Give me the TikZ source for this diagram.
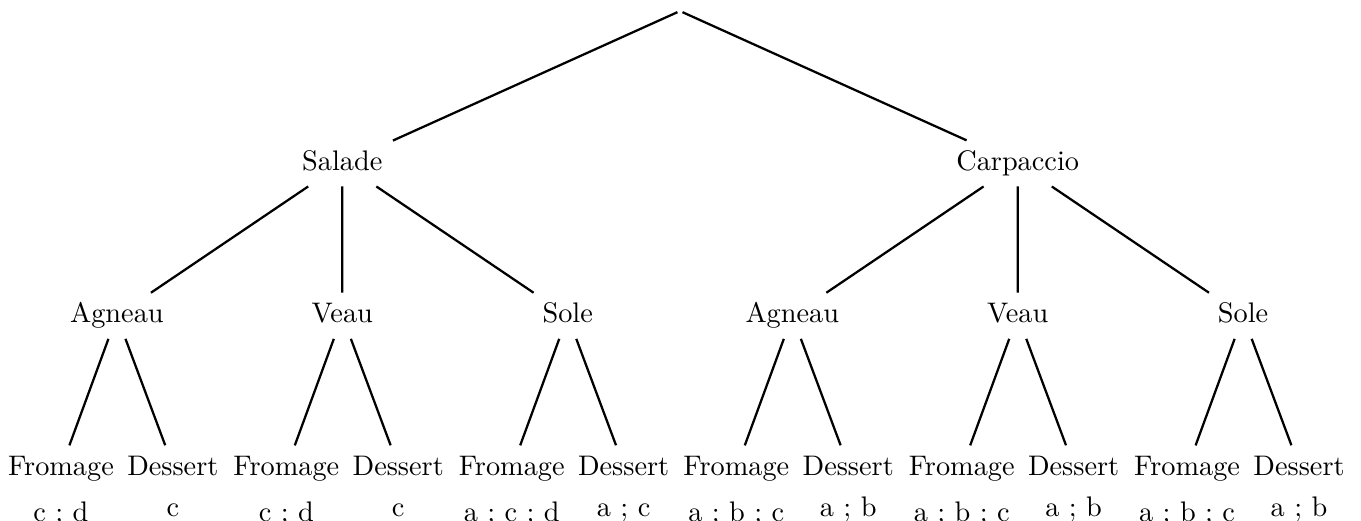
\documentclass[tikz,border=0pt]{standalone}

\begin{document}
\begin{tikzpicture}[level distance=1.88cm, thick,
    dish/.style={text height=1.6ex, text depth=.45ex},
    every child node/.style={anchor=base},
    every label/.style={text height=1.6ex},
    level 1/.style={sibling distance=8.39cm, level distance=1.98cm},
    level 2/.style={sibling distance=2.8cm},
    level 3/.style={sibling distance=1.39cm}
    ]
    \useasboundingbox (-8.447,0.137) rectangle (8.46,-6.323);
    \node[inner sep=0pt] (menu) {}
      child {node[dish] {Salade}
        child {node[dish] {Agneau}
          child {node[label=below:{c ; d}] {Fromage}}
          child {node[label=below:{c}] {Dessert}}
        }
        child {node[dish] {Veau}
          child {node[label=below:{c ; d}] {Fromage}}
          child {node[label=below:{c}] {Dessert}}
        }
        child {node[dish] {Sole}
          child {node[label=below:{a ; c ; d}] {Fromage}}
          child {node[label=below:{a ; c}] {Dessert}}
        }
      }
      child {node[dish] {Carpaccio}
        child {node[dish] {Agneau}
          child {node[label=below:{a ; b ; c}] {Fromage}}
          child {node[label=below:{a ; b}] {Dessert}}
        }
        child {node[dish] {Veau}
          child {node[label=below:{a ; b ; c}] {Fromage}}
          child {node[label=below:{a ; b}] {Dessert}}
        }
        child {node[dish] {Sole}
          child {node[label=below:{a ; b ; c}] {Fromage}}
          child {node[label=below:{a ; b}] {Dessert}}
        }
      };
  \end{tikzpicture}
\end{document}
